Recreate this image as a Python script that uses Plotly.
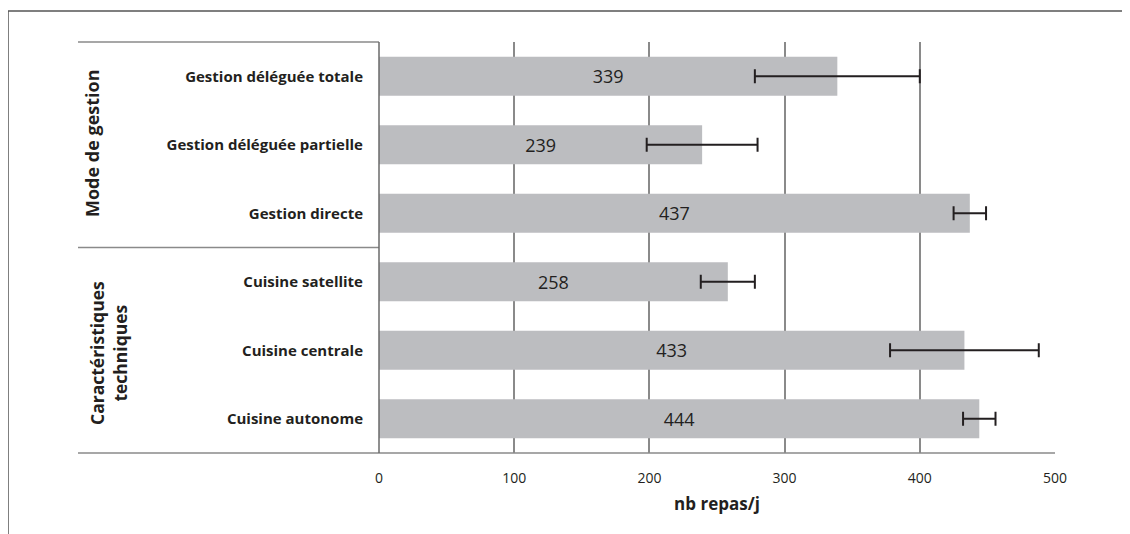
import plotly.graph_objects as go

categories = ["Gestion déléguée totale", "Gestion déléguée partielle", "Gestion directe",
              "Cuisine satellite", "Cuisine centrale", "Cuisine autonome"]
values = [339, 239, 437, 258, 433, 444]
errors = [61, 41, 12, 20, 55, 12]
group_labels = ["Mode de gestion", "Caractéristiques<br>techniques"]
x_ticks = [0, 100, 200, 300, 400, 500]
x_title = "nb repas/j"

FONT = "Open Sans"
DARK = "#231f20"
LINE = "#8a8a8a"

# page offset (body margin) compensation
OFF = 8

fig = go.Figure(go.Bar(
    y=categories, x=values, orientation="h",
    marker=dict(color="#bcbdc0", line=dict(width=0)),
    error_x=dict(type="data", array=errors, visible=True, color=DARK, thickness=2, width=7),
    text=values, texttemplate="%{x}", textposition="inside", insidetextanchor="middle",
    textfont=dict(size=18, color=DARK, family=FONT),
    hoverinfo="skip",
))

W0, W = 379 - OFF, 676
T0, H = 42 - OFF, 411
def px(x):
    return (x - OFF - W0) / W
def py(y):
    return (T0 + H - (y - OFF)) / H

shapes = [
    # outer frame
    dict(type="line", xref="paper", yref="paper", x0=px(8), x1=px(1140), y0=py(11), y1=py(11),
         line=dict(color="#555555", width=1.5)),
    dict(type="line", xref="paper", yref="paper", x0=px(8), x1=px(8), y0=py(11), y1=py(545),
         line=dict(color="#555555", width=1.5)),
    # separators
    dict(type="line", xref="paper", yref="paper", x0=px(78), x1=0, y0=1, y1=1,
         line=dict(color=LINE, width=1.5)),
    dict(type="line", xref="paper", yref="paper", x0=px(78), x1=0, y0=0.5, y1=0.5,
         line=dict(color=LINE, width=1.5)),
    dict(type="line", xref="paper", yref="paper", x0=px(78), x1=1, y0=0, y1=0,
         line=dict(color=LINE, width=1.5)),
    dict(type="line", xref="paper", yref="paper", x0=0, x1=0, y0=0, y1=1,
         line=dict(color="#6a6a6a", width=1.5)),
]

annotations = [
    dict(text="<b>" + group_labels[0] + "</b>", xref="paper", yref="paper", x=px(92), y=py(143),
         textangle=-90, showarrow=False, font=dict(size=18, color=DARK, family=FONT),
         xanchor="center", yanchor="middle"),
    dict(text="<b>" + group_labels[1] + "</b>", xref="paper", yref="paper", x=px(108), y=py(353),
         textangle=-90, showarrow=False, font=dict(size=17.5, color=DARK, family=FONT),
         xanchor="center", yanchor="middle"),
]

fig.update_layout(
    width=1130, height=534,
    margin=dict(l=W0, r=1130 - W0 - W, t=T0, b=534 - T0 - H),
    paper_bgcolor="white", plot_bgcolor="white",
    bargap=0.43, showlegend=False,
    shapes=shapes, annotations=annotations,
    font=dict(family=FONT, color=DARK),
)
fig.update_xaxes(
    range=[0, 500], tickvals=x_ticks, ticktext=[str(t) for t in x_ticks],
    showgrid=True, gridcolor=LINE, gridwidth=1.5, zeroline=False, showline=False,
    tickfont=dict(size=14, color=DARK, family=FONT), ticks="outside", ticklen=0,
    ticklabelstandoff=12,
    title=dict(text="<b>" + x_title + "</b>", font=dict(size=17, color=DARK, family=FONT), standoff=12),
)
fig.update_yaxes(
    categoryorder="array", categoryarray=categories[::-1],
    showgrid=False, zeroline=False, showline=False,
    tickfont=dict(size=15, color=DARK, family=FONT), ticks="outside", ticklen=0,
    ticklabelstandoff=12,
    tickprefix="<b>", ticksuffix="</b>",
)

fig.write_html("out.html")
